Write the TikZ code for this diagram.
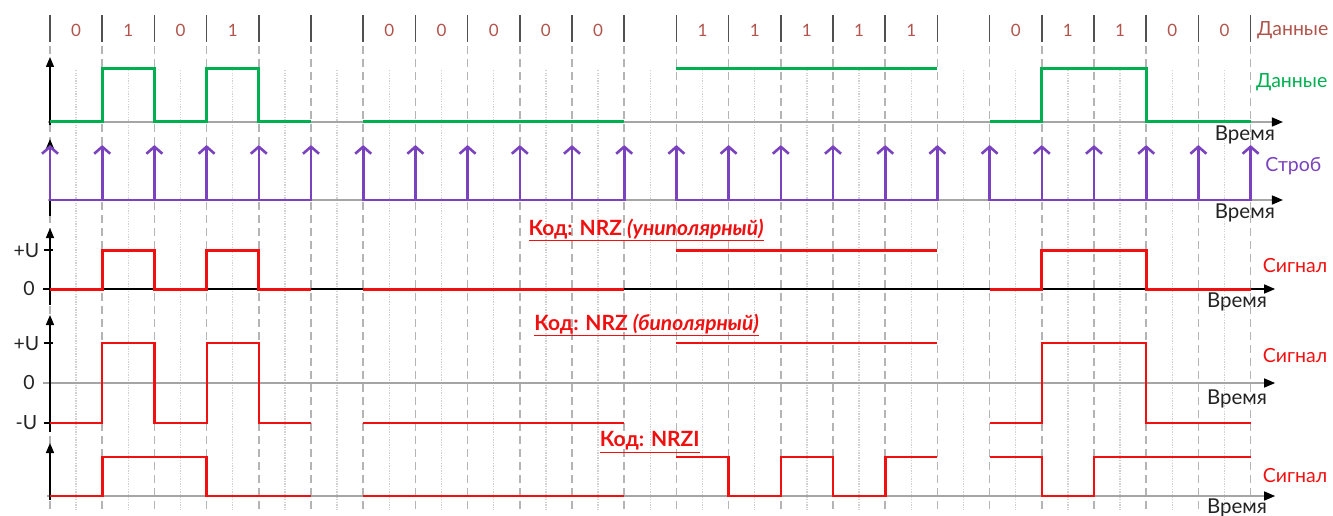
\documentclass[tikz,border=0pt]{standalone}
\usepackage{fontspec}
\setmainfont{Lato}
\usetikzlibrary{arrows.meta}
\definecolor{bitc}{RGB}{176,84,76}
\definecolor{grn}{RGB}{0,176,80}
\definecolor{prp}{RGB}{122,66,190}
\definecolor{sig}{RGB}{240,16,16}
\definecolor{axg}{RGB}{165,165,165}
\definecolor{dashg}{RGB}{180,180,180}
\definecolor{dotg}{RGB}{208,208,208}
\definecolor{txtk}{RGB}{35,35,35}
\definecolor{barg}{RGB}{80,80,80}
\newcommand\nrzpath[2]{(0,#2) -- (1,#2) -- (1,#1) -- (2,#1) -- (2,#2) -- (3,#2) -- (3,#1) -- (4,#1) -- (4,#2) -- (5,#2)
  (6,#2) -- (11,#2) (12,#1) -- (17,#1)
  (18,#2) -- (19,#2) -- (19,#1) -- (21,#1) -- (21,#2) -- (23,#2)}
\begin{document}
\begin{tikzpicture}[x=52.2pt,y=-1pt,
  lbl/.style={font=\fontsize{19.5}{22}\selectfont, inner sep=0pt},
  tlbl/.style={font=\fontsize{20.5}{22}\selectfont, inner sep=0pt, text=txtk},
  digit/.style={font=\fontsize{17}{20}\selectfont, text=bitc, inner sep=0pt},
  ttl/.style={font=\bfseries\fontsize{21}{24}\selectfont, text=sig, inner sep=0pt},
  bar/.style={barg, line width=1.6pt},
  dashv/.style={dashg, line width=1.5pt, dash pattern=on 8pt off 5pt},
  dotv/.style={dotg, line width=1.3pt, dash pattern=on 1.3pt off 1.3pt},
  yaxis/.style={black, line width=1.4pt, -{Triangle[length=10pt,width=8pt]}},
  xaxis/.style={line width=1.4pt, -{Triangle[length=11pt,width=9pt,color=black]}},
  axtick/.style={black, line width=1.2pt},
  strobe/.style={prp, line width=2.6pt, -{Straight Barb[length=7pt,width=16pt]}},
]
\useasboundingbox (-0.95785,0) rectangle (24.5785,516);
% grid
\foreach \k in {0,...,22} {
  \draw[dotv] ({\k+0.5},70) -- ({\k+0.5},510);
}
\foreach \k in {0,...,23} {
  \draw[bar] (\k,15) -- (\k,42);
  \draw[dashv] (\k,46) -- (\k,510);
}
% top digits
\foreach \k/\b in {0/0,1/1,2/0,3/1,6/0,7/0,8/0,9/0,10/0,12/1,13/1,14/1,15/1,16/1,18/0,19/1,20/1,21/0,22/0} {
  \node[digit] (d\k) at ({\k+0.5},30) {\b};
}
\node[lbl, text=bitc, anchor=west] (topdata) at (23.12,30) {Данные};

% row 1: data
\draw[xaxis, axg] (-0.04,122) -- (23.62,122);
\draw[yaxis] (0,125) -- (0,57);
\draw[grn, line width=3pt] \nrzpath{69}{122};
\node[lbl, text=grn, anchor=west] (gdata) at (23.10,82) {Данные};
\node[tlbl] (t1) at (22.89,135) {Время};

% row 2: strobe
\draw[xaxis, axg] (-0.04,200) -- (23.62,200);
\draw[yaxis] (0,216) -- (0,139);
\foreach \a/\b in {0/5,6/11,12/17,18/23} {
  \draw[prp, line width=2.6pt] (\a,200) -- (\b,200);
}
\foreach \k in {0,...,23} {
  \draw[strobe] (\k,201) -- (\k,145);
}
\node[lbl, text=prp, anchor=west] (strb) at (23.28,166) {Строб};
\node[tlbl] (t2) at (22.89,213) {Время};

% row 3: NRZ unipolar
\draw[xaxis, black] (-0.13,289) -- (23.47,289);
\draw[yaxis] (0,305) -- (0,228);
\draw[axtick] (-0.12,250) -- (0.06,250);
\node[lbl, text=txtk] (pu3) at (-0.45,251) {+U};
\node[lbl, text=txtk] (z3) at (-0.4,289) {0};
\draw[sig, line width=3pt] \nrzpath{250}{289};
\node[ttl] (ttl3) at (11.42,230) {\underline{Код: NRZ \textit{(униполярный)}}};
\node[lbl, text=sig, anchor=west] (s3) at (23.23,266) {Сигнал};
\node[tlbl] (t3) at (22.74,302) {Время};

% row 4: NRZ bipolar
\draw[xaxis, axg] (-0.13,383) -- (23.47,383);
\draw[yaxis] (0,432) -- (0,315);
\draw[axtick] (-0.12,343) -- (0.06,343);
\draw[axtick] (-0.12,423) -- (0.06,423);
\node[lbl, text=txtk] (pu4) at (-0.45,344) {+U};
\node[lbl, text=txtk] (z4) at (-0.4,383) {0};
\node[lbl, text=txtk] (mu4) at (-0.45,423) {-U};
\draw[sig, line width=2.2pt] \nrzpath{343}{423};
\node[ttl] (ttl4) at (11.43,325) {\underline{Код: NRZ \textit{(биполярный)}}};
\node[lbl, text=sig, anchor=west] (s4) at (23.23,356) {Сигнал};
\node[tlbl] (t4) at (22.74,399) {Время};

% row 5: NRZI
\draw[xaxis, axg] (-0.05,496) -- (23.47,496);
\draw[yaxis] (0,500) -- (0,443);
\draw[sig, line width=2.6pt]
  (0,496) -- (1,496) -- (1,457) -- (3,457) -- (3,496) -- (5,496)
  (6,496) -- (11,496)
  (12,457) -- (13,457) -- (13,496) -- (14,496) -- (14,457) -- (15,457) -- (15,496) -- (16,496) -- (16,457) -- (17,457)
  (18,457) -- (19,457) -- (19,496) -- (20,496) -- (20,457) -- (23,457);
\node[ttl] (ttl5) at (11.49,442) {\underline{Код: NRZI}};
\node[lbl, text=sig, anchor=west] (s5) at (23.23,476) {Сигнал};
\node[tlbl, anchor=north] (t5) at (22.74,499) {Время};
\end{tikzpicture}
\end{document}
